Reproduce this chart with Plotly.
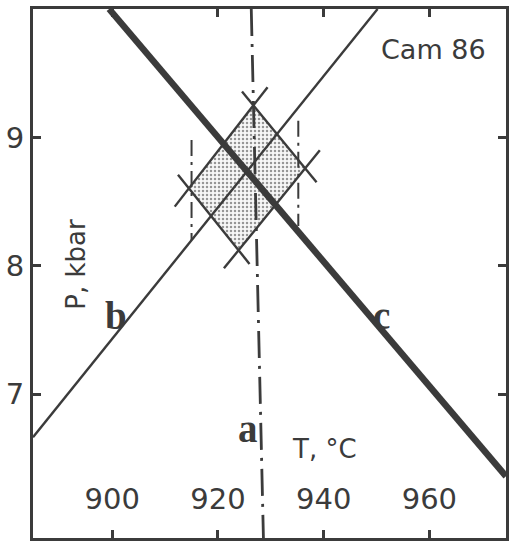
import plotly.graph_objects as go

# Equilibrium curves in P-T space (T in °C, P in kbar)
line_a_T = [926.3, 928.6]
line_a_P = [10.0, 5.88]
line_b_T = [885.0, 950.2]
line_b_P = [6.665, 10.0]
line_c_T = [899.4, 974.5]
line_c_P = [10.0, 6.36]

# Uncertainty field around the intersection (left, top, right, bottom corners)
field_T = [914.5, 926.7, 936.5, 923.9]
field_P = [8.603, 9.249, 8.759, 8.121]

# Uncertainty limits of curve a
limit_left_T = [915.0, 915.0]
limit_left_P = [8.98, 8.20]
limit_right_T = [935.2, 935.2]
limit_right_P = [9.13, 8.31]

x_ticks = [900, 920, 940, 960]
y_ticks = [7, 8, 9]
x_range = [885.0, 974.5]
y_range = [5.88, 10.0]

INK = "#3b3b3b"
SANS = "DejaVu Sans"
SERIF = "Liberation Serif"

fig = go.Figure()

# stippled uncertainty field
fig.add_trace(go.Scatter(
    x=field_T + field_T[:1], y=field_P + field_P[:1],
    mode="lines", line=dict(width=0), fill="toself",
    fillcolor="rgba(255,255,255,0)",
    fillpattern=dict(shape=".", fgcolor="#333333", bgcolor="#f7f7f7",
                     size=4, solidity=0.3),
    hoverinfo="skip", showlegend=False))

# field edges, extended past each corner so the corners read as crosses
ext = 0.22
n = len(field_T)
for i in range(n):
    t0, p0 = field_T[i], field_P[i]
    t1, p1 = field_T[(i + 1) % n], field_P[(i + 1) % n]
    dt, dp = t1 - t0, p1 - p0
    fig.add_trace(go.Scatter(
        x=[t0 - ext * dt, t1 + ext * dt], y=[p0 - ext * dp, p1 + ext * dp],
        mode="lines", line=dict(color=INK, width=2.4),
        hoverinfo="skip", showlegend=False))

# limits of curve a
for tx, py in ((limit_left_T, limit_left_P), (limit_right_T, limit_right_P)):
    fig.add_trace(go.Scatter(
        x=tx, y=py, mode="lines",
        line=dict(color=INK, width=2, dash="16px,6px,3px,6px"),
        hoverinfo="skip", showlegend=False))

# curve a (dash-dot), b (thin), c (thick)
fig.add_trace(go.Scatter(
    x=line_a_T, y=line_a_P, mode="lines",
    line=dict(color=INK, width=2.8, dash="27px,8px,3px,8px"),
    hoverinfo="skip", showlegend=False))
fig.add_trace(go.Scatter(
    x=line_b_T, y=line_b_P, mode="lines",
    line=dict(color=INK, width=2.4),
    hoverinfo="skip", showlegend=False))
fig.add_trace(go.Scatter(
    x=line_c_T, y=line_c_P, mode="lines",
    line=dict(color=INK, width=6.5),
    hoverinfo="skip", showlegend=False))

annotations = [
    dict(x=436, y=50, text="Cam 86", font=dict(family=SANS, size=27, color=INK)),
    dict(x=76, y=264, text="P, kbar", textangle=-90,
         font=dict(family=SANS, size=26, color=INK)),
    dict(x=326, y=449, text="T, °C", font=dict(family=SANS, size=26, color=INK)),
    dict(x=249, y=428, text="<b>a</b>", font=dict(family=SERIF, size=39, color=INK)),
    dict(x=117, y=315, text="<b>b</b>", font=dict(family=SERIF, size=39, color=INK)),
    dict(x=384, y=315, text="<b>c</b>", font=dict(family=SERIF, size=39, color=INK)),
]
for a in annotations:
    a.update(xref="paper", yref="paper", showarrow=False,
             xanchor="center", yanchor="middle")
    # convert pixel placement to paper coordinates of the plot area
    a["x"] = (a["x"] - 33) / (509 - 33)
    a["y"] = 1 - (a["y"] - 9) / (538 - 9)

fig.update_layout(
    width=511, height=541,
    margin=dict(l=33, r=2, t=9, b=3),
    paper_bgcolor="white", plot_bgcolor="white",
    showlegend=False,
    annotations=annotations,
    xaxis=dict(range=x_range, tickvals=x_ticks, ticktext=[str(v) for v in x_ticks],
               ticks="inside", ticklen=8, tickwidth=2.5, tickcolor=INK,
               ticklabelposition="inside", ticklabelstandoff=18,
               showline=True, linewidth=3, linecolor=INK, mirror="allticks",
               showgrid=False, zeroline=False,
               tickfont=dict(family=SANS, size=29, color=INK)),
    yaxis=dict(range=y_range, tickvals=y_ticks, ticktext=[str(v) for v in y_ticks],
               ticks="inside", ticklen=8, tickwidth=2.5, tickcolor=INK,
               showline=True, linewidth=3, linecolor=INK, mirror="allticks",
               showgrid=False, zeroline=False,
               tickfont=dict(family=SANS, size=29, color=INK)),
)

fig.write_html("out.html")
